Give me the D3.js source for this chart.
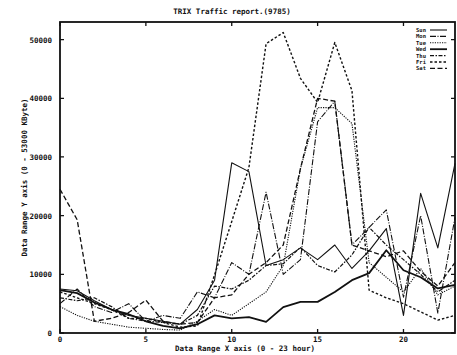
<!DOCTYPE html>
<html>
<head>
<meta charset="utf-8">
<script src="https://cdn.jsdelivr.net/npm/d3@7"></script>
<style>
  body { margin: 0; background: #fff; }
  text { font-family: "DejaVu Sans Mono", monospace; font-weight: bold; fill: #111; }
</style>
</head>
<body>
<script>
// hourly traffic (KByte)
const hours = d3.range(0, 24);
const days = ['Sun', 'Mon', 'Tue', 'Wed', 'Thu', 'Fri', 'Sat'];

const sun = [7500, 7200, 5500, 4000, 3000, 2500, 2000, 1500, 4000, 9000, 29000, 27500, 11500, 12500, 14500, 12500, 15000, 11000, 14000, 17800, 3000, 23800, 14500, 28900];
const mon = [5000, 7500, 4500, 3500, 5000, 2000, 3000, 2500, 7000, 6000, 12000, 10000, 24000, 10000, 12500, 36000, 39500, 15000, 18000, 21000, 6100, 20000, 3400, 19700];
const tue = [4500, 3000, 2000, 1500, 1000, 800, 600, 500, 2000, 4000, 3000, 5000, 7000, 11500, 28000, 38400, 38400, 35700, 12000, 9500, 7000, 11000, 6500, 8000];
const wed = [7300, 6800, 5200, 4000, 3200, 2000, 1200, 800, 1500, 3000, 2500, 2700, 1900, 4400, 5300, 5300, 7000, 9000, 10200, 14100, 10700, 9500, 7600, 8200];
const thu = [6000, 5500, 6000, 4500, 2500, 2000, 1800, 1500, 3000, 8000, 7500, 9000, 11500, 11800, 14600, 11500, 10400, 13300, 18000, 15000, 12500, 10000, 7000, 9000];
const fri = [7000, 6000, 5000, 4000, 2500, 2500, 1800, 1000, 1200, 9900, 19000, 28200, 49300, 51200, 43400, 39300, 49500, 41300, 7300, 6000, 5000, 3600, 2200, 3000];
const sat = [24500, 19300, 2000, 2500, 3500, 5600, 2000, 1500, 1800, 6000, 6500, 10000, 12000, 15000, 28000, 40000, 39500, 15000, 14000, 13000, 14000, 10500, 8000, 12000];

const xTicks = [0, 5, 10, 15, 20];
const yTicks = [0, 10000, 20000, 30000, 40000, 50000];

const series = [sun, mon, tue, wed, thu, fri, sat];
const dashes = [null, '6,1.5,1,1.5', '1.2,1.2', null, '4,1.5,1.5,1.5', '2.5,2', '5,2.5'];
const widths = [1.1, 1.1, 1.1, 1.8, 1.2, 1.4, 1.3];

const W = 457, H = 355;
const m = { left: 60, right: 2, top: 22, bottom: 22 };

const svg = d3.select('body').append('svg')
	.attr('width', W)
	.attr('height', H);

const x = d3.scaleLinear().domain([0, 23]).range([m.left, W - m.right]);
const y = d3.scaleLinear().domain([0, 53000]).range([H - m.bottom, m.top]);

// frame
svg.append('rect')
	.attr('x', x(0)).attr('y', y(53000))
	.attr('width', x(23) - x(0)).attr('height', y(0) - y(53000))
	.attr('fill', 'none').attr('stroke', '#111').attr('stroke-width', 1.8);

// inward ticks, all four sides
const tl = 4;
svg.selectAll('.xt').data(xTicks).join('path')
	.attr('stroke', '#111').attr('stroke-width', 1.3)
	.attr('d', d => `M${x(d)},${y(0)}v${-tl}M${x(d)},${y(53000)}v${tl}`);
svg.selectAll('.yt').data(yTicks).join('path')
	.attr('stroke', '#111').attr('stroke-width', 1.3)
	.attr('d', d => `M${x(0)},${y(d)}h${tl}M${x(23)},${y(d)}h${-tl}`);

// tick labels
svg.selectAll('.xl').data(xTicks).join('text')
	.attr('x', d => x(d)).attr('y', H - 13)
	.attr('text-anchor', 'middle').attr('font-size', 7.5)
	.text(d => d);
svg.selectAll('.yl').data(yTicks).join('text')
	.attr('x', 52).attr('y', d => y(d) + 3)
	.attr('text-anchor', 'end').attr('font-size', 7.5)
	.text(d => d);

// lines
const line = d3.line().x((d, i) => x(hours[i])).y(d => y(d));
svg.selectAll('.ln').data(series).join('path')
	.attr('fill', 'none')
	.attr('stroke', '#111')
	.attr('stroke-width', (d, i) => widths[i])
	.attr('stroke-dasharray', (d, i) => dashes[i])
	.attr('stroke-linejoin', 'round')
	.attr('d', line);

// legend
const lg = svg.append('g');
days.forEach((dname, i) => {
	const ly = 30 + i * 6.4;
	lg.append('text')
		.attr('x', 426).attr('y', ly + 2)
		.attr('text-anchor', 'end').attr('font-size', 5.5)
		.text(dname);
	lg.append('line')
		.attr('x1', 430).attr('x2', 447)
		.attr('y1', ly).attr('y2', ly)
		.attr('stroke', '#111')
		.attr('stroke-width', widths[i])
		.attr('stroke-dasharray', dashes[i]);
});

// titles
svg.append('text')
	.attr('x', 232).attr('y', 14)
	.attr('text-anchor', 'middle').attr('font-size', 7.5)
	.text('TRIX Traffic report.(9785)');
svg.append('text')
	.attr('x', 245).attr('y', H - 4)
	.attr('text-anchor', 'middle').attr('font-size', 7.5)
	.text('Data Range X axis (0 - 23 hour)');
svg.append('text')
	.attr('transform', `translate(27,${(y(0) + y(53000)) / 2}) rotate(-90)`)
	.attr('text-anchor', 'middle').attr('font-size', 7.5)
	.text('Data Range Y axis (0 - 53000 KByte)');
</script>
</body>
</html>
